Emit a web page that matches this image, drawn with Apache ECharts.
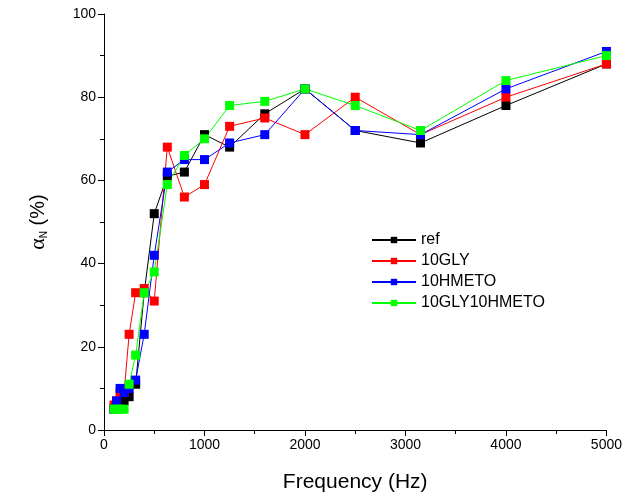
<!DOCTYPE html>
<html>
<head>
<meta charset="utf-8">
<script src="https://cdn.jsdelivr.net/npm/echarts@6/dist/echarts.min.js"></script>
<style>html,body{margin:0;padding:0;background:#fff;}#c{width:625px;height:499px;}</style>
</head>
<body>
<div id="c"></div>
<script>
var freq = [100,125,160,200,250,315,400,500,630,800,1000,1250,1600,2000,2500,3150,4000,5000];
var refVals = [5,6,7,7,8,11,33,52,61,62,71,68,76,82,72,69,78,88];
var glyVals = [6,7,9,9,23,33,34,31,68,56,59,73,75,71,80,71,80,88];
var hmetoVals = [5,7,10,9,10,12,23,42,62,65,65,69,71,82,72,71,82,91];
var mixVals = [5,5,5,5,11,18,33,38,59,66,70,78,79,82,78,72,84,90];
var seriesNames = ['ref','10GLY','10HMETO','10GLY10HMETO'];
var seriesColors = ['#000000','#ff0000','#0000ff','#00ff00'];
var seriesData = [refVals, glyVals, hmetoVals, mixVals];

function pairs(vals){ return freq.map(function(f,i){ return [f, vals[i]]; }); }

var chart = echarts.init(document.getElementById('c'));
var font = 'Liberation Sans, Arial, sans-serif';
chart.setOption({
  animation: false,
  backgroundColor: '#fff',
  grid: {left: 104, right: 16, top: 14, bottom: 69, containLabel: false},
  legend: {
    orient: 'vertical', left: 366, top: 227,
    itemWidth: 44, itemHeight: 8, itemGap: 5,
    textStyle: {fontFamily: font, fontSize: 16, color: '#000'},
    data: seriesNames
  },
  xAxis: {
    type: 'value', min: 0, max: 5000, interval: 1000,
    name: 'Frequency (Hz)', nameLocation: 'middle', nameGap: 42,
    nameTextStyle: {fontFamily: font, fontSize: 21, color: '#000'},
    axisLine: {lineStyle: {color: '#000', width: 1}},
    axisTick: {show: true, inside: false, length: 6, lineStyle: {color: '#000'}},
    minorTick: {show: true, splitNumber: 2, length: 4, lineStyle: {color: '#000'}},
    splitLine: {show: false},
    axisLabel: {fontFamily: font, fontSize: 14, color: '#000', margin: 8,
      formatter: function(v){ return String(v); }}
  },
  yAxis: {
    type: 'value', min: 0, max: 100, interval: 20,
    name: '{a|α}{s|N}{b| (%)}', nameLocation: 'middle', nameGap: 55,
    nameTextStyle: {
      rich: {
        a: {fontFamily: 'Liberation Serif, Times New Roman, serif', fontSize: 22, color: '#000'},
        s: {fontFamily: font, fontSize: 10, color: '#000', verticalAlign: 'bottom', padding: [10,0,0,0]},
        b: {fontFamily: font, fontSize: 20, color: '#000'}
      }
    },
    axisLine: {show: true, lineStyle: {color: '#000', width: 1}},
    axisTick: {show: true, inside: false, length: 6, lineStyle: {color: '#000'}},
    minorTick: {show: true, splitNumber: 2, length: 4, lineStyle: {color: '#000'}},
    splitLine: {show: false},
    axisLabel: {fontFamily: font, fontSize: 14, color: '#000', margin: 8}
  },
  series: seriesNames.map(function(n, i){
    return {
      name: n, type: 'line', data: pairs(seriesData[i]),
      symbol: 'rect', symbolSize: 9, showSymbol: true,
      itemStyle: {color: seriesColors[i]},
      lineStyle: {color: seriesColors[i], width: 1}
    };
  })
});
</script>
</body>
</html>
